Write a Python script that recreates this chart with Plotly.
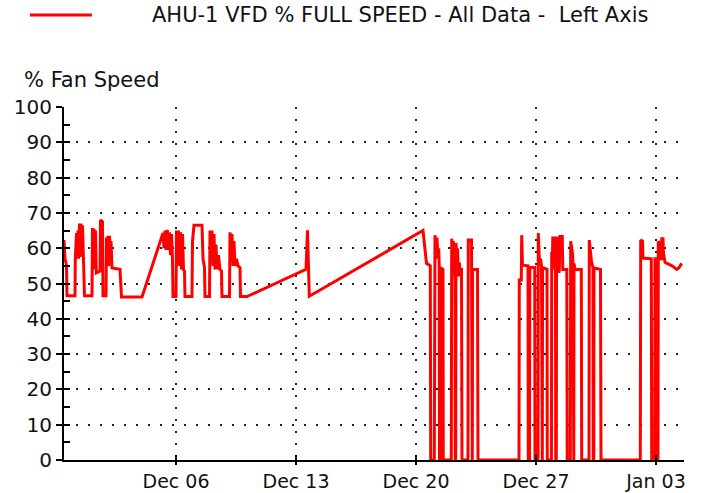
import plotly.graph_objects as go

# ---- data ----
times = [
    # Nov 29 - Dec 2
    "2020-11-29 11:12", "2020-11-29 12:36", "2020-11-29 14:42", "2020-11-29 15:24",
    "2020-11-30 02:36", "2020-11-30 03:00", "2020-11-30 04:42", "2020-11-30 05:24",
    "2020-11-30 06:48", "2020-11-30 07:30", "2020-11-30 08:54", "2020-11-30 09:54",
    "2020-11-30 11:00", "2020-11-30 12:00", "2020-11-30 13:06", "2020-11-30 14:12",
    "2020-11-30 15:12", "2020-11-30 15:54",
    "2020-12-01 02:24", "2020-12-01 03:06", "2020-12-01 04:12", "2020-12-01 05:12",
    "2020-12-01 06:12", "2020-12-01 07:18", "2020-12-01 08:24", "2020-12-01 13:36",
    "2020-12-01 14:18", "2020-12-01 17:06", "2020-12-01 17:48", "2020-12-01 22:00",
    "2020-12-01 22:42", "2020-12-01 23:48",
    "2020-12-02 00:48", "2020-12-02 01:48", "2020-12-02 02:54", "2020-12-02 04:00",
    "2020-12-02 05:00", "2020-12-02 06:24", "2020-12-02 17:36", "2020-12-02 19:42",
    "2020-12-04 00:24", "2020-12-05 05:48",
    # Dec 5 - Dec 10
    "2020-12-05 07:12", "2020-12-05 08:36", "2020-12-05 10:00", "2020-12-05 11:48",
    "2020-12-05 13:12", "2020-12-05 14:54", "2020-12-05 16:18", "2020-12-05 17:42",
    "2020-12-05 19:06", "2020-12-05 19:48",
    "2020-12-06 00:00", "2020-12-06 00:42", "2020-12-06 02:06", "2020-12-06 03:30",
    "2020-12-06 04:54", "2020-12-06 06:18", "2020-12-06 07:42", "2020-12-06 09:06",
    "2020-12-06 10:30", "2020-12-06 11:54", "2020-12-06 12:36", "2020-12-06 22:24",
    "2020-12-06 23:06",
    "2020-12-07 01:12", "2020-12-07 12:24", "2020-12-07 13:48", "2020-12-07 15:54",
    "2020-12-07 16:36", "2020-12-07 22:54", "2020-12-07 23:36",
    "2020-12-08 01:00", "2020-12-08 02:24", "2020-12-08 03:48", "2020-12-08 05:12",
    "2020-12-08 06:36", "2020-12-08 08:00", "2020-12-08 09:24", "2020-12-08 11:30",
    "2020-12-08 13:36", "2020-12-08 15:42", "2020-12-08 16:24",
    "2020-12-09 02:54", "2020-12-09 03:36", "2020-12-09 05:00", "2020-12-09 06:24",
    "2020-12-09 07:48", "2020-12-09 09:12", "2020-12-09 10:36", "2020-12-09 12:42",
    "2020-12-09 14:48", "2020-12-09 17:36", "2020-12-09 18:18",
    "2020-12-10 03:24",
    # Dec 13 - Dec 20
    "2020-12-13 14:00", "2020-12-13 16:06", "2020-12-13 18:36",
    "2020-12-20 09:48", "2020-12-20 14:42", "2020-12-20 20:00", "2020-12-20 20:36",
    # Dec 21
    "2020-12-21 01:36", "2020-12-21 02:36", "2020-12-21 04:00", "2020-12-21 05:24",
    "2020-12-21 06:48", "2020-12-21 07:48", "2020-12-21 08:30", "2020-12-21 08:54",
    "2020-12-21 10:00", "2020-12-21 10:36", "2020-12-21 13:48", "2020-12-21 14:12",
    # Dec 22
    "2020-12-22 01:24", "2020-12-22 02:00", "2020-12-22 03:06", "2020-12-22 04:12",
    "2020-12-22 05:30", "2020-12-22 06:36", "2020-12-22 06:54", "2020-12-22 07:36",
    "2020-12-22 08:00", "2020-12-22 09:06", "2020-12-22 10:12", "2020-12-22 11:24",
    "2020-12-22 12:36", "2020-12-22 13:36", "2020-12-22 15:42", "2020-12-22 16:24",
    # Dec 23
    "2020-12-23 00:48", "2020-12-23 01:12", "2020-12-23 05:42", "2020-12-23 06:06",
    "2020-12-23 06:48", "2020-12-23 07:12", "2020-12-23 14:06", "2020-12-23 14:48",
    # Dec 26
    "2020-12-26 00:12", "2020-12-26 00:36", "2020-12-26 03:24", "2020-12-26 04:00",
    "2020-12-26 05:06", "2020-12-26 12:48", "2020-12-26 13:12", "2020-12-26 14:54",
    "2020-12-26 15:18", "2020-12-26 22:12", "2020-12-26 22:36",
    # Dec 27
    "2020-12-27 02:48", "2020-12-27 03:12", "2020-12-27 04:54", "2020-12-27 06:18",
    "2020-12-27 07:42", "2020-12-27 08:00", "2020-12-27 08:48", "2020-12-27 09:12",
    "2020-12-27 15:00", "2020-12-27 15:24", "2020-12-27 15:48",
    "2020-12-27 21:36", "2020-12-27 22:00", "2020-12-27 23:06", "2020-12-27 23:30",
    # Dec 28
    "2020-12-28 00:48", "2020-12-28 01:54", "2020-12-28 03:18", "2020-12-28 03:36",
    "2020-12-28 04:24", "2020-12-28 04:48", "2020-12-28 06:06", "2020-12-28 07:12",
    "2020-12-28 08:30", "2020-12-28 09:36", "2020-12-28 12:48", "2020-12-28 13:30",
    "2020-12-28 19:06", "2020-12-28 19:42",
    # Dec 29
    "2020-12-29 00:00", "2020-12-29 00:36", "2020-12-29 03:06", "2020-12-29 03:48",
    "2020-12-29 04:06", "2020-12-29 04:54", "2020-12-29 05:12", "2020-12-29 06:36",
    "2020-12-29 15:24", "2020-12-29 16:00",
    # Dec 30
    "2020-12-30 02:12", "2020-12-30 02:36", "2020-12-30 05:42", "2020-12-30 07:48",
    "2020-12-30 08:06", "2020-12-30 08:54", "2020-12-30 09:12", "2020-12-30 18:18",
    "2020-12-30 19:00",
    # Jan 2 - Jan 4
    "2021-01-02 02:00", "2021-01-02 02:36", "2021-01-02 05:06", "2021-01-02 05:48",
    "2021-01-02 17:24", "2021-01-02 18:00", "2021-01-02 22:12", "2021-01-02 22:36",
    "2021-01-02 23:18", "2021-01-02 23:42",
    "2021-01-03 02:48", "2021-01-03 03:12", "2021-01-03 04:36", "2021-01-03 05:36",
    "2021-01-03 07:42", "2021-01-03 08:06", "2021-01-03 09:48", "2021-01-03 10:30",
    "2021-01-03 12:36", "2021-01-03 15:24", "2021-01-03 22:24",
    "2021-01-04 05:00", "2021-01-04 08:12", "2021-01-04 12:00",
]

fan_speed = [
    # Nov 29 - Dec 2
    62.3, 57, 55.2, 46.5,
    46.5, 56.7, 64.3, 57,
    65, 57, 67, 57.5,
    67, 58, 66.5, 57,
    56.7, 46.5,
    46.5, 65.7, 55, 65.5,
    54, 65, 53, 53.5,
    68, 67.5, 46.5, 46.5,
    63, 56,
    63.5, 55, 63.5, 57.5,
    62, 54.4, 54, 46.2,
    46.2, 64.3,
    # Dec 5 - Dec 10
    60, 65, 59.5, 65.2,
    59.5, 64.5, 58, 64,
    57, 46.3,
    46.3, 65, 55, 65,
    55, 64.5, 54, 64,
    54, 53.5, 46.3, 46.3,
    62,
    66.5, 66.5, 57, 54.5,
    46.3, 46.3, 65,
    56, 65, 55, 64,
    54, 61, 54, 58,
    54, 53.5, 46.3,
    46.3, 64.5, 56, 64,
    55, 62, 55, 57,
    55, 54.5, 46.3,
    46.3,
    # Dec 13 - Dec 20
    54, 65.1, 46.4,
    65, 55.7, 55, 0,
    # Dec 21
    0, 63.7, 58, 63,
    57, 60, 55, 0,
    0, 54.5, 54, 0,
    # Dec 22
    0, 62.7, 56, 62,
    55, 51, 0, 0,
    61.5, 54, 60, 52,
    56, 54, 54, 0,
    # Dec 23
    0, 62.3, 62.3, 0,
    0, 54, 54, 0,
    # Dec 26
    0, 51, 51, 63.7,
    55.2, 55, 0, 0,
    54.5, 54.5, 0,
    # Dec 27
    0, 64.3, 55.7, 57,
    55, 0, 0, 54.5,
    54, 54, 0,
    0, 58.5, 58.5, 63.3,
    # Dec 28
    54, 63.3, 53, 0,
    0, 63.3, 53, 63.3,
    53, 63.3, 63.3, 54,
    54, 0,
    # Dec 29
    0, 62, 58.5, 55.7,
    0, 0, 55.7, 54,
    54, 0,
    # Dec 30
    0, 62.3, 56.2, 54.4,
    0, 0, 54.4, 54,
    0,
    # Jan 2 - Jan 4
    0, 62.3, 62, 57.2,
    57, 0, 0, 57,
    57, 0,
    0, 62, 61.5, 57,
    57, 62.7, 62.7, 58.5,
    56, 55.7, 55,
    54, 54.5, 55.7,
]

x_tick_vals = ["2020-12-06", "2020-12-13", "2020-12-20", "2020-12-27", "2021-01-03"]
x_tick_text = ["Dec 06", "Dec 13", "Dec 20", "Dec 27", "Jan 03"]
x_range = ["2020-11-29 11:12", "2021-01-04 15:12"]
y_tick_vals = [0, 10, 20, 30, 40, 50, 60, 70, 80, 90, 100]

series_name = "AHU-1 VFD % FULL SPEED - All Data -\u00a0 Left Axis"
y_title = "% Fan Speed"

FONT = "DejaVu Sans"
RED = "#ff0000"
TXT = "#111111"

fig = go.Figure()
fig.add_trace(go.Scatter(
    x=times, y=fan_speed, mode="lines", name=series_name,
    line=dict(color=RED, width=3), showlegend=False,
))
# invisible trace on overlay axes so the crossing (inner) ticks render
fig.add_trace(go.Scatter(x=[times[0]], y=[0], xaxis="x2", yaxis="y2",
                         mode="markers", marker=dict(opacity=0), showlegend=False,
                         hoverinfo="skip"))

grid_common = dict(showgrid=True, gridcolor="#222222", gridwidth=1.6, griddash="2px,10px")

fig.update_layout(
    width=702, height=493,
    margin=dict(l=64, r=18, t=107, b=33, autoexpand=False),
    paper_bgcolor="white", plot_bgcolor="white",
    font=dict(family=FONT, size=20, color=TXT),
    xaxis=dict(
        type="date", range=x_range, automargin=False,
        tickvals=x_tick_vals, ticktext=x_tick_text,
        ticks="outside", ticklen=3, tickwidth=2, tickcolor="black",
        showline=True, linecolor="black", linewidth=2,
        zeroline=False, layer="below traces",
        tickfont=dict(family=FONT, size=19, color=TXT),
        **grid_common,
    ),
    yaxis=dict(
        range=[0, 100], tickvals=y_tick_vals, automargin=False,
        ticks="outside", ticklen=6, tickwidth=2, tickcolor="black",
        showline=True, linecolor="black", linewidth=2,
        zeroline=False, layer="below traces",
        tickfont=dict(family=FONT, size=20, color=TXT),
        **grid_common,
    ),
    xaxis2=dict(
        type="date", range=x_range, overlaying="x", anchor="y", automargin=False,
        tickvals=x_tick_vals, ticks="inside", ticklen=5, tickwidth=2,
        tickcolor="black", showticklabels=False, showgrid=False,
        showline=False, zeroline=False,
    ),
    yaxis2=dict(
        range=[0, 100], overlaying="y", anchor="x", side="left", automargin=False,
        dtick=5, tick0=0, ticks="inside", ticklen=6, tickwidth=2,
        tickcolor="black", showticklabels=False, showgrid=False,
        showline=False, zeroline=False,
    ),
    shapes=[dict(
        type="line", xref="paper", yref="paper",
        x0=-0.055, x1=0.045, y0=1.2606, y1=1.2606,
        line=dict(color=RED, width=3),
    )],
    annotations=[
        dict(text=series_name, xref="paper", yref="paper",
             x=0.1387, y=1.2606, xanchor="left", yanchor="middle",
             showarrow=False, font=dict(family=FONT, size=21, color=TXT)),
        dict(text=y_title, xref="paper", yref="paper",
             x=-0.0677, y=1.0765, xanchor="left", yanchor="middle",
             showarrow=False, font=dict(family=FONT, size=21, color=TXT)),
    ],
)

# remove the default 8px page margin so the figure fills the window exactly
fig.write_html("out.html", config={"displayModeBar": False},
               post_script="document.body.style.margin='0';")
